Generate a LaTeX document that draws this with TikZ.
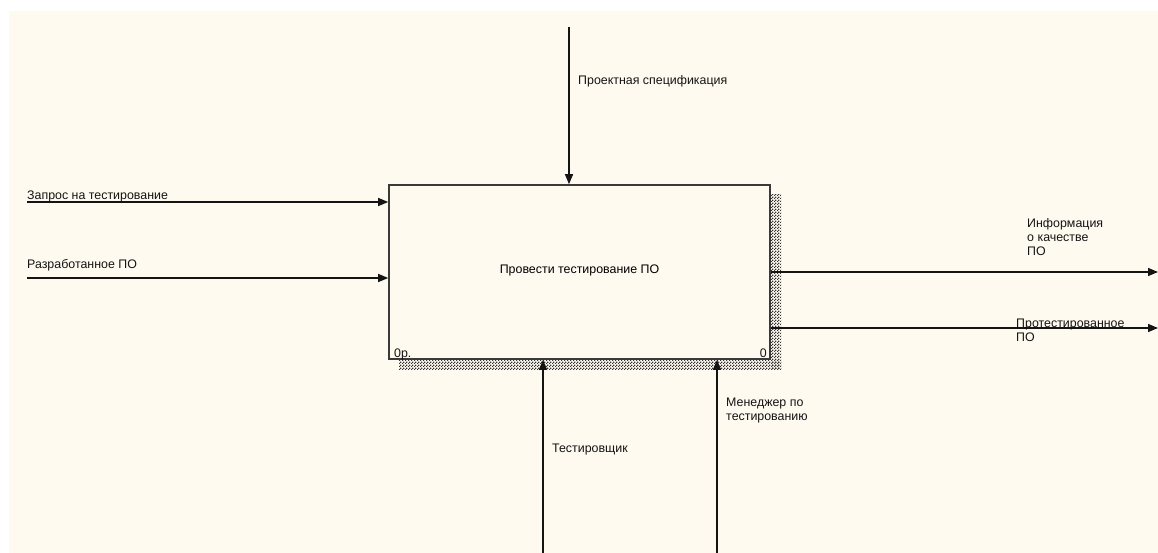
\documentclass[tikz,border=0pt]{standalone}
\usepackage{fontspec}
\setmainfont{Liberation Sans}
\usetikzlibrary{arrows.meta,patterns.meta,positioning}

\definecolor{paper}{HTML}{FFFAF0}
\definecolor{ink}{HTML}{141414}
\definecolor{edge}{HTML}{3A3A3A}

\tikzdeclarepattern{
  name=checker,
  type=uncolored,
  bottom left={(0pt,0pt)},
  top right={(3pt,3pt)},
  tile size={(3pt,3pt)},
  code={\fill (0pt,0pt) rectangle (1.5pt,1.5pt); \fill (1.5pt,1.5pt) rectangle (3pt,3pt);}
}

\tikzset{
  func/.style={draw=edge,line width=1.6pt,fill=paper,minimum width=381pt,
    minimum height=174pt,inner sep=0pt,font=\fontsize{12.4}{14}\selectfont},
  flow/.style={draw=ink,line width=1.3pt,-{Triangle[length=10pt,width=8pt]}},
  lbl/.style={font=\fontsize{12.4}{14}\selectfont,text=ink,inner sep=0pt,align=left},
  shade/.style={pattern=checker,pattern color=black!80}
}

\begin{document}
\begin{tikzpicture}[x=1pt,y=-1pt]
  \useasboundingbox[fill=white] (0,0) rectangle (1158,553);
  \fill[paper] (9,11) rectangle (1158,553);

  % shadow of the box
  \fill[shade] (771,195) rectangle (781,369);
  \fill[shade] (399,360) rectangle (781,369);

  \node[func] (proc) at (579.5,272) {\raisebox{6pt}{Провести тестирование ПО}};
  \node[lbl,anchor=base west] (num) at (394,357) {0р.};
  \node[lbl,anchor=base east] (idx) at (767,357) {0};

  % ends of the arrows
  \coordinate (spec) at (569,27);
  \coordinate (req) at (27,202);
  \coordinate (dev) at (27,278);
  \coordinate (info) at (1158,272);
  \coordinate (done) at (1158,328);
  \coordinate (tester) at (543,553);
  \coordinate (mgr) at (717,553);

  \draw[flow] (spec) -- (spec |- proc.north);
  \draw[flow] (req) -- (req -| proc.west);
  \draw[flow] (dev) -- (dev -| proc.west);
  \draw[flow] (info -| proc.east) -- (info);
  \draw[flow] (done -| proc.east) -- (done);
  \draw[flow] (tester) -- (tester |- proc.south);
  \draw[flow] (mgr) -- (mgr |- proc.south);

  % labels (base = last line)
  \node[lbl,anchor=base west] (speclbl) at (578,85) {Проектная спецификация};
  \node[lbl,anchor=base west] (reqlbl) at (27,200) {Запрос на тестирование};
  \node[lbl,anchor=base west] (devlbl) at (27,268) {Разработанное ПО};
  \node[lbl,anchor=base west] (infolbl) at (1027,255) {Информация\\о качестве\\ПО};
  \node[lbl,anchor=base west] (donelbl) at (1016,341) {Протестированное\\ПО};
  \node[lbl,anchor=base west] (testerlbl) at (552,452) {Тестировщик};
  \node[lbl,anchor=base west] (mgrlbl) at (726,420) {Менеджер по\\тестированию};
\end{tikzpicture}
\end{document}
